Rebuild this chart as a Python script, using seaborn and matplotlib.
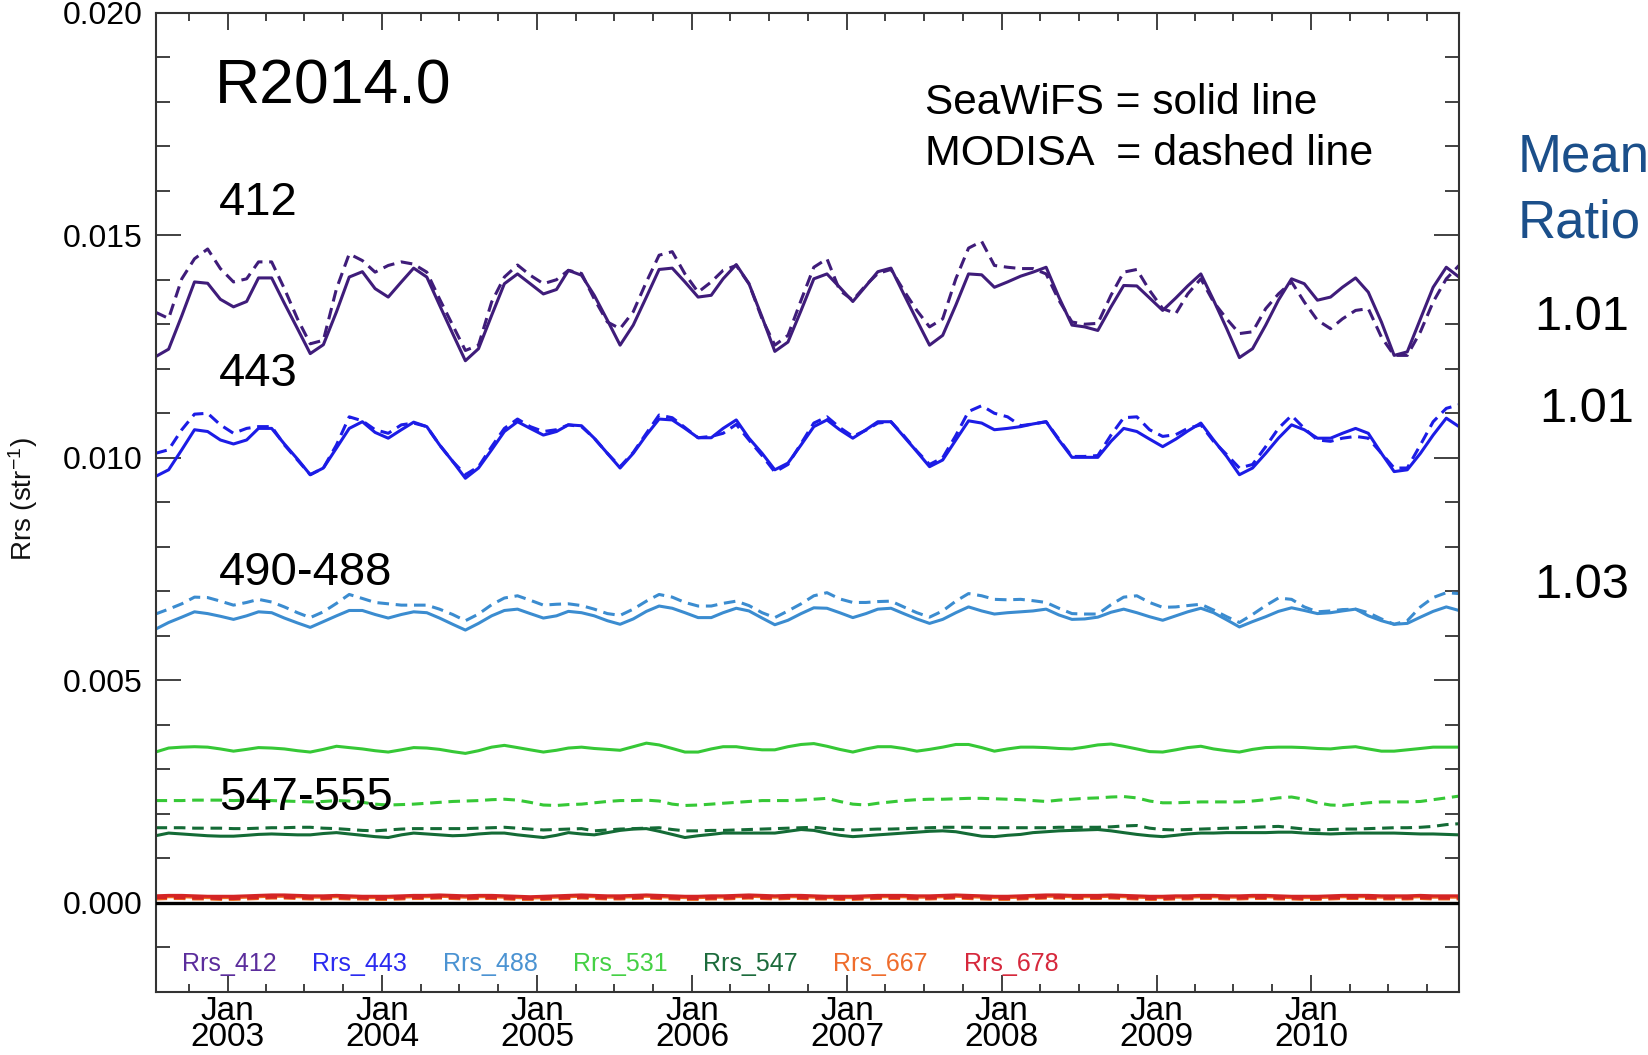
import numpy as np
import pandas as pd
import matplotlib
matplotlib.use("Agg")
import matplotlib.pyplot as plt
import matplotlib.dates as mdates
from matplotlib.ticker import MultipleLocator, FuncFormatter
import seaborn as sns

# ---------------- data (monthly means, Jul 2002 - Dec 2010) ----------------
months = pd.date_range("2002-07-01", "2010-12-01", freq="MS") + pd.Timedelta(days=14)

s412 = [0.01227, 0.01244, 0.01319, 0.01395, 0.01392, 0.01356,
        0.01339, 0.01351, 0.01404, 0.01404, 0.01347, 0.01290, 0.01234, 0.01254, 0.01328, 0.01406, 0.01418, 0.01380,
        0.01361, 0.01395, 0.01426, 0.01406, 0.01343, 0.01279, 0.01218, 0.01245, 0.01320, 0.01391, 0.01413, 0.01391,
        0.01368, 0.01378, 0.01421, 0.01410, 0.01365, 0.01309, 0.01253, 0.01298, 0.01361, 0.01423, 0.01426, 0.01395,
        0.01361, 0.01365, 0.01402, 0.01434, 0.01391, 0.01316, 0.01239, 0.01260, 0.01331, 0.01402, 0.01413, 0.01383,
        0.01351, 0.01386, 0.01418, 0.01426, 0.01368, 0.01309, 0.01253, 0.01275, 0.01343, 0.01413, 0.01411, 0.01383,
        0.01395, 0.01408, 0.01417, 0.01428, 0.01361, 0.01298, 0.01294, 0.01286, 0.01339, 0.01387, 0.01386, 0.01359,
        0.01331, 0.01359, 0.01386, 0.01413, 0.01354, 0.01290, 0.01225, 0.01245, 0.01298, 0.01354, 0.01402, 0.01391,
        0.01354, 0.01361, 0.01383, 0.01404, 0.01372, 0.01305, 0.01230, 0.01238, 0.01312, 0.01383, 0.01428, 0.01406]
m412 = [0.01327, 0.01313, 0.01402, 0.01447, 0.01469, 0.01425,
        0.01395, 0.01402, 0.01440, 0.01440, 0.01380, 0.01312, 0.01256, 0.01264, 0.01380, 0.01458, 0.01443, 0.01417,
        0.01432, 0.01440, 0.01435, 0.01417, 0.01357, 0.01298, 0.01241, 0.01253, 0.01350, 0.01406, 0.01433, 0.01410,
        0.01391, 0.01400, 0.01421, 0.01414, 0.01357, 0.01305, 0.01290, 0.01328, 0.01395, 0.01455, 0.01463, 0.01413,
        0.01372, 0.01395, 0.01421, 0.01432, 0.01391, 0.01312, 0.01253, 0.01275, 0.01354, 0.01428, 0.01447, 0.01376,
        0.01354, 0.01388, 0.01414, 0.01423, 0.01376, 0.01331, 0.01294, 0.01312, 0.01402, 0.01471, 0.01486, 0.01432,
        0.01428, 0.01425, 0.01425, 0.01413, 0.01354, 0.01305, 0.01300, 0.01302, 0.01365, 0.01417, 0.01423, 0.01376,
        0.01335, 0.01324, 0.01368, 0.01402, 0.01350, 0.01312, 0.01279, 0.01283, 0.01335, 0.01368, 0.01395, 0.01350,
        0.01309, 0.01290, 0.01312, 0.01331, 0.01335, 0.01271, 0.01230, 0.01230, 0.01283, 0.01350, 0.01402, 0.01432]
s443 = [0.00958, 0.00973, 0.01018, 0.01063, 0.01059, 0.01040,
        0.01031, 0.01040, 0.01066, 0.01066, 0.01031, 0.00997, 0.00962, 0.00977, 0.01022, 0.01066, 0.01081, 0.01057,
        0.01044, 0.01063, 0.01080, 0.01070, 0.01029, 0.00992, 0.00954, 0.00977, 0.01018, 0.01059, 0.01081, 0.01066,
        0.01051, 0.01059, 0.01074, 0.01072, 0.01044, 0.01010, 0.00977, 0.01010, 0.01051, 0.01087, 0.01085, 0.01066,
        0.01045, 0.01045, 0.01066, 0.01085, 0.01044, 0.01010, 0.00973, 0.00988, 0.01029, 0.01070, 0.01085, 0.01063,
        0.01044, 0.01063, 0.01081, 0.01081, 0.01048, 0.01014, 0.00980, 0.00995, 0.01040, 0.01083, 0.01078, 0.01063,
        0.01066, 0.01070, 0.01076, 0.01081, 0.01040, 0.01001, 0.01001, 0.01001, 0.01037, 0.01066, 0.01059, 0.01042,
        0.01025, 0.01042, 0.01060, 0.01078, 0.01040, 0.01003, 0.00962, 0.00977, 0.01010, 0.01044, 0.01074, 0.01063,
        0.01044, 0.01044, 0.01055, 0.01066, 0.01055, 0.01010, 0.00969, 0.00973, 0.01010, 0.01051, 0.01089, 0.01070]
m443 = [0.01010, 0.01018, 0.01063, 0.01098, 0.01100, 0.01074,
        0.01055, 0.01066, 0.01070, 0.01070, 0.01029, 0.00995, 0.00962, 0.00977, 0.01029, 0.01092, 0.01083, 0.01063,
        0.01055, 0.01074, 0.01078, 0.01070, 0.01029, 0.00992, 0.00962, 0.00980, 0.01025, 0.01066, 0.01087, 0.01070,
        0.01059, 0.01063, 0.01074, 0.01070, 0.01044, 0.01010, 0.00980, 0.01012, 0.01055, 0.01096, 0.01090, 0.01068,
        0.01045, 0.01048, 0.01055, 0.01075, 0.01040, 0.01005, 0.00968, 0.00985, 0.01032, 0.01078, 0.01092, 0.01068,
        0.01048, 0.01062, 0.01078, 0.01081, 0.01050, 0.01015, 0.00985, 0.01000, 0.01050, 0.01104, 0.01117, 0.01100,
        0.01092, 0.01072, 0.01076, 0.01081, 0.01042, 0.01003, 0.01003, 0.01005, 0.01051, 0.01090, 0.01092, 0.01063,
        0.01048, 0.01052, 0.01066, 0.01074, 0.01037, 0.01007, 0.00977, 0.00985, 0.01025, 0.01066, 0.01095, 0.01066,
        0.01040, 0.01037, 0.01044, 0.01048, 0.01044, 0.01010, 0.00977, 0.00977, 0.01029, 0.01081, 0.01111, 0.01119]
s488 = [0.00615, 0.00630, 0.00642, 0.00654, 0.00650, 0.00644,
        0.00637, 0.00645, 0.00654, 0.00652, 0.00640, 0.00629, 0.00619, 0.00632, 0.00645, 0.00657, 0.00657, 0.00648,
        0.00640, 0.00648, 0.00654, 0.00652, 0.00640, 0.00626, 0.00613, 0.00628, 0.00645, 0.00657, 0.00660, 0.00650,
        0.00640, 0.00645, 0.00655, 0.00652, 0.00645, 0.00634, 0.00626, 0.00638, 0.00655, 0.00667, 0.00662, 0.00652,
        0.00641, 0.00641, 0.00652, 0.00662, 0.00656, 0.00640, 0.00625, 0.00635, 0.00650, 0.00663, 0.00662, 0.00652,
        0.00641, 0.00650, 0.00660, 0.00662, 0.00650, 0.00638, 0.00628, 0.00637, 0.00652, 0.00665, 0.00656, 0.00649,
        0.00652, 0.00654, 0.00656, 0.00660, 0.00647, 0.00637, 0.00638, 0.00642, 0.00653, 0.00660, 0.00652, 0.00643,
        0.00635, 0.00645, 0.00654, 0.00662, 0.00652, 0.00636, 0.00620, 0.00632, 0.00643, 0.00655, 0.00663, 0.00657,
        0.00650, 0.00652, 0.00656, 0.00660, 0.00645, 0.00634, 0.00626, 0.00628, 0.00642, 0.00655, 0.00665, 0.00657]
m488 = [0.00649, 0.00660, 0.00672, 0.00687, 0.00686, 0.00678,
        0.00669, 0.00675, 0.00682, 0.00676, 0.00665, 0.00652, 0.00641, 0.00654, 0.00673, 0.00693, 0.00684, 0.00675,
        0.00672, 0.00669, 0.00669, 0.00669, 0.00660, 0.00648, 0.00634, 0.00649, 0.00670, 0.00685, 0.00690, 0.00680,
        0.00669, 0.00671, 0.00672, 0.00668, 0.00660, 0.00650, 0.00646, 0.00660, 0.00678, 0.00693, 0.00687, 0.00675,
        0.00667, 0.00667, 0.00673, 0.00678, 0.00668, 0.00652, 0.00641, 0.00656, 0.00672, 0.00690, 0.00697, 0.00683,
        0.00675, 0.00675, 0.00677, 0.00678, 0.00665, 0.00652, 0.00642, 0.00656, 0.00678, 0.00695, 0.00690, 0.00682,
        0.00681, 0.00682, 0.00679, 0.00675, 0.00662, 0.00650, 0.00649, 0.00649, 0.00670, 0.00687, 0.00690, 0.00675,
        0.00664, 0.00665, 0.00668, 0.00671, 0.00658, 0.00643, 0.00630, 0.00648, 0.00668, 0.00685, 0.00682, 0.00665,
        0.00654, 0.00656, 0.00659, 0.00660, 0.00652, 0.00638, 0.00626, 0.00634, 0.00665, 0.00686, 0.00697, 0.00695]
s531 = [0.00339, 0.00348, 0.00350, 0.00351, 0.00350, 0.00346,
        0.00341, 0.00345, 0.00349, 0.00348, 0.00346, 0.00342, 0.00339, 0.00345, 0.00352, 0.00349, 0.00346, 0.00342,
        0.00339, 0.00344, 0.00349, 0.00348, 0.00345, 0.00340, 0.00336, 0.00342, 0.00350, 0.00354, 0.00349, 0.00344,
        0.00339, 0.00343, 0.00348, 0.00350, 0.00347, 0.00345, 0.00343, 0.00351, 0.00359, 0.00355, 0.00347, 0.00339,
        0.00339, 0.00346, 0.00351, 0.00351, 0.00347, 0.00344, 0.00344, 0.00351, 0.00356, 0.00358, 0.00352, 0.00345,
        0.00339, 0.00346, 0.00351, 0.00351, 0.00347, 0.00341, 0.00345, 0.00350, 0.00356, 0.00356, 0.00349, 0.00341,
        0.00346, 0.00350, 0.00350, 0.00349, 0.00347, 0.00346, 0.00350, 0.00355, 0.00357, 0.00352, 0.00346, 0.00340,
        0.00339, 0.00344, 0.00349, 0.00352, 0.00346, 0.00342, 0.00339, 0.00345, 0.00349, 0.00350, 0.00350, 0.00349,
        0.00347, 0.00346, 0.00349, 0.00351, 0.00346, 0.00341, 0.00341, 0.00344, 0.00347, 0.00350, 0.00350, 0.00350]
m531 = [0.00230, 0.00230, 0.00230, 0.00231, 0.00231, 0.00231,
        0.00230, 0.00231, 0.00231, 0.00230, 0.00229, 0.00228, 0.00227, 0.00228, 0.00230, 0.00229, 0.00226, 0.00222,
        0.00220, 0.00221, 0.00222, 0.00224, 0.00226, 0.00228, 0.00229, 0.00230, 0.00232, 0.00233, 0.00231, 0.00226,
        0.00220, 0.00219, 0.00221, 0.00222, 0.00225, 0.00228, 0.00230, 0.00230, 0.00231, 0.00229, 0.00222, 0.00219,
        0.00220, 0.00222, 0.00224, 0.00226, 0.00228, 0.00230, 0.00230, 0.00230, 0.00231, 0.00233, 0.00235, 0.00228,
        0.00222, 0.00220, 0.00224, 0.00227, 0.00230, 0.00232, 0.00233, 0.00233, 0.00234, 0.00235, 0.00235, 0.00234,
        0.00233, 0.00232, 0.00230, 0.00228, 0.00231, 0.00233, 0.00235, 0.00236, 0.00238, 0.00239, 0.00236, 0.00229,
        0.00225, 0.00225, 0.00226, 0.00227, 0.00227, 0.00227, 0.00227, 0.00229, 0.00232, 0.00236, 0.00238, 0.00233,
        0.00225, 0.00220, 0.00219, 0.00222, 0.00225, 0.00227, 0.00227, 0.00227, 0.00228, 0.00232, 0.00236, 0.00240]
s547 = [0.00151, 0.00157, 0.00155, 0.00153, 0.00151, 0.00150,
        0.00150, 0.00152, 0.00154, 0.00155, 0.00154, 0.00153, 0.00153, 0.00156, 0.00158, 0.00155, 0.00152, 0.00149,
        0.00147, 0.00153, 0.00157, 0.00155, 0.00153, 0.00151, 0.00152, 0.00155, 0.00157, 0.00157, 0.00153, 0.00150,
        0.00147, 0.00152, 0.00158, 0.00155, 0.00153, 0.00158, 0.00163, 0.00166, 0.00167, 0.00161, 0.00154, 0.00147,
        0.00151, 0.00154, 0.00157, 0.00157, 0.00157, 0.00157, 0.00157, 0.00161, 0.00165, 0.00163, 0.00157, 0.00152,
        0.00149, 0.00151, 0.00153, 0.00155, 0.00157, 0.00159, 0.00161, 0.00162, 0.00160, 0.00155, 0.00150, 0.00149,
        0.00152, 0.00154, 0.00158, 0.00160, 0.00162, 0.00163, 0.00164, 0.00165, 0.00162, 0.00158, 0.00154, 0.00151,
        0.00149, 0.00152, 0.00155, 0.00157, 0.00157, 0.00158, 0.00158, 0.00158, 0.00158, 0.00159, 0.00159, 0.00157,
        0.00156, 0.00155, 0.00156, 0.00157, 0.00157, 0.00157, 0.00157, 0.00156, 0.00155, 0.00155, 0.00154, 0.00153]
m547 = [0.00169, 0.00169, 0.00169, 0.00168, 0.00168, 0.00168,
        0.00167, 0.00167, 0.00168, 0.00169, 0.00169, 0.00170, 0.00170, 0.00168, 0.00167, 0.00165, 0.00163, 0.00162,
        0.00164, 0.00166, 0.00167, 0.00167, 0.00167, 0.00167, 0.00167, 0.00168, 0.00169, 0.00170, 0.00168, 0.00166,
        0.00164, 0.00165, 0.00166, 0.00167, 0.00162, 0.00164, 0.00166, 0.00167, 0.00168, 0.00169, 0.00165, 0.00162,
        0.00162, 0.00163, 0.00163, 0.00164, 0.00165, 0.00166, 0.00167, 0.00168, 0.00169, 0.00170, 0.00167, 0.00165,
        0.00164, 0.00165, 0.00166, 0.00166, 0.00167, 0.00168, 0.00169, 0.00170, 0.00170, 0.00170, 0.00169, 0.00169,
        0.00169, 0.00169, 0.00169, 0.00169, 0.00170, 0.00170, 0.00170, 0.00170, 0.00171, 0.00173, 0.00174, 0.00168,
        0.00165, 0.00164, 0.00165, 0.00166, 0.00167, 0.00168, 0.00169, 0.00170, 0.00171, 0.00172, 0.00169, 0.00166,
        0.00164, 0.00165, 0.00166, 0.00166, 0.00167, 0.00168, 0.00169, 0.00169, 0.00170, 0.00172, 0.00176, 0.00178]
s667 = [0.00013, 0.00014, 0.00014, 0.00013, 0.00012, 0.00012,
        0.00012, 0.00013, 0.00014, 0.00015, 0.00015, 0.00014, 0.00013, 0.00013, 0.00014, 0.00013, 0.00012, 0.00012,
        0.00012, 0.00013, 0.00014, 0.00014, 0.00015, 0.00014, 0.00013, 0.00014, 0.00014, 0.00013, 0.00012, 0.00011,
        0.00012, 0.00013, 0.00014, 0.00015, 0.00014, 0.00013, 0.00013, 0.00014, 0.00015, 0.00014, 0.00013, 0.00012,
        0.00012, 0.00013, 0.00013, 0.00014, 0.00015, 0.00014, 0.00013, 0.00014, 0.00014, 0.00013, 0.00012, 0.00012,
        0.00012, 0.00013, 0.00014, 0.00014, 0.00014, 0.00013, 0.00013, 0.00014, 0.00015, 0.00014, 0.00013, 0.00012,
        0.00012, 0.00013, 0.00014, 0.00015, 0.00015, 0.00014, 0.00014, 0.00014, 0.00015, 0.00014, 0.00013, 0.00012,
        0.00012, 0.00013, 0.00013, 0.00014, 0.00014, 0.00013, 0.00013, 0.00014, 0.00014, 0.00013, 0.00012, 0.00012,
        0.00012, 0.00013, 0.00014, 0.00014, 0.00014, 0.00013, 0.00013, 0.00013, 0.00014, 0.00013, 0.00013, 0.00013]
m667 = [0.00009, 0.00010, 0.00010, 0.00009, 0.00009, 0.00008,
        0.00008, 0.00009, 0.00010, 0.00011, 0.00011, 0.00010, 0.00009, 0.00009, 0.00010, 0.00009, 0.00009, 0.00008,
        0.00008, 0.00009, 0.00010, 0.00010, 0.00011, 0.00010, 0.00009, 0.00010, 0.00010, 0.00009, 0.00008, 0.00008,
        0.00008, 0.00009, 0.00010, 0.00011, 0.00010, 0.00009, 0.00009, 0.00010, 0.00011, 0.00010, 0.00009, 0.00008,
        0.00008, 0.00009, 0.00009, 0.00010, 0.00011, 0.00010, 0.00009, 0.00010, 0.00010, 0.00009, 0.00009, 0.00008,
        0.00008, 0.00009, 0.00010, 0.00010, 0.00010, 0.00009, 0.00009, 0.00010, 0.00011, 0.00010, 0.00009, 0.00008,
        0.00008, 0.00009, 0.00010, 0.00011, 0.00011, 0.00010, 0.00010, 0.00010, 0.00011, 0.00010, 0.00009, 0.00008,
        0.00008, 0.00009, 0.00009, 0.00010, 0.00010, 0.00009, 0.00009, 0.00010, 0.00010, 0.00009, 0.00009, 0.00008,
        0.00008, 0.00009, 0.00010, 0.00010, 0.00010, 0.00009, 0.00009, 0.00009, 0.00010, 0.00009, 0.00009, 0.00009]
s678 = [0.00016, 0.00017, 0.00017, 0.00016, 0.00015, 0.00015,
        0.00015, 0.00016, 0.00017, 0.00018, 0.00018, 0.00017, 0.00016, 0.00016, 0.00017, 0.00016, 0.00015, 0.00015,
        0.00015, 0.00016, 0.00017, 0.00017, 0.00018, 0.00017, 0.00016, 0.00017, 0.00017, 0.00016, 0.00015, 0.00014,
        0.00015, 0.00016, 0.00017, 0.00018, 0.00017, 0.00016, 0.00016, 0.00017, 0.00018, 0.00017, 0.00016, 0.00015,
        0.00015, 0.00016, 0.00016, 0.00017, 0.00018, 0.00017, 0.00016, 0.00017, 0.00017, 0.00016, 0.00015, 0.00015,
        0.00015, 0.00016, 0.00017, 0.00017, 0.00017, 0.00016, 0.00016, 0.00017, 0.00018, 0.00017, 0.00016, 0.00015,
        0.00015, 0.00016, 0.00017, 0.00018, 0.00018, 0.00017, 0.00017, 0.00017, 0.00018, 0.00017, 0.00016, 0.00015,
        0.00015, 0.00016, 0.00016, 0.00017, 0.00017, 0.00016, 0.00016, 0.00017, 0.00017, 0.00016, 0.00015, 0.00015,
        0.00015, 0.00016, 0.00017, 0.00017, 0.00017, 0.00016, 0.00016, 0.00016, 0.00017, 0.00016, 0.00016, 0.00016]
m678 = [0.00012, 0.00012, 0.00012, 0.00011, 0.00011, 0.00010,
        0.00010, 0.00011, 0.00012, 0.00013, 0.00013, 0.00012, 0.00011, 0.00011, 0.00012, 0.00011, 0.00011, 0.00010,
        0.00010, 0.00011, 0.00012, 0.00012, 0.00013, 0.00012, 0.00011, 0.00012, 0.00012, 0.00011, 0.00010, 0.00010,
        0.00010, 0.00011, 0.00012, 0.00013, 0.00012, 0.00011, 0.00011, 0.00012, 0.00013, 0.00012, 0.00011, 0.00010,
        0.00010, 0.00011, 0.00011, 0.00012, 0.00013, 0.00012, 0.00011, 0.00012, 0.00012, 0.00011, 0.00011, 0.00010,
        0.00010, 0.00011, 0.00012, 0.00012, 0.00012, 0.00011, 0.00011, 0.00012, 0.00013, 0.00012, 0.00011, 0.00010,
        0.00010, 0.00011, 0.00012, 0.00013, 0.00013, 0.00012, 0.00012, 0.00012, 0.00013, 0.00012, 0.00011, 0.00010,
        0.00010, 0.00011, 0.00011, 0.00012, 0.00012, 0.00011, 0.00011, 0.00012, 0.00012, 0.00011, 0.00011, 0.00010,
        0.00010, 0.00011, 0.00012, 0.00012, 0.00012, 0.00011, 0.00011, 0.00011, 0.00012, 0.00011, 0.00011, 0.00011]

bands = ["Rrs_412", "Rrs_443", "Rrs_488", "Rrs_531", "Rrs_547", "Rrs_667", "Rrs_678"]
seawifs = [s412, s443, s488, s531, s547, s667, s678]
modisa = [m412, m443, m488, m531, m547, m667, m678]
band_colors = ["#3f1c7a", "#1c1ce6", "#3b8cd0", "#36c836", "#146b36", "#f0691e", "#d42424"]
label_colors = ["#5b2d9c", "#2b2bf0", "#4b93d2", "#45d045", "#1c6b3c", "#ef6c2c", "#d6283c"]
band_labels = ["412", "443", "490-488", "547-555"]
mean_ratios = ["1.01", "1.01", "1.03"]

# ---------------- long-form table ----------------
frames = []
for b, sv, mv in zip(bands, seawifs, modisa):
    frames.append(pd.DataFrame({"date": months, "Rrs": sv, "band": b, "sensor": "SeaWiFS"}))
    frames.append(pd.DataFrame({"date": months, "Rrs": mv, "band": b, "sensor": "MODISA"}))
df = pd.concat(frames, ignore_index=True)

# ---------------- style ----------------
sns.set_style("ticks")
plt.rcParams["font.family"] = ["Liberation Sans", "DejaVu Sans"]
plt.rcParams["mathtext.fontset"] = "custom"
plt.rcParams["mathtext.rm"] = "Liberation Sans"
plt.rcParams["mathtext.it"] = "Liberation Sans:italic"
plt.rcParams["text.color"] = "black"
plt.rcParams["axes.labelcolor"] = "black"
plt.rcParams["xtick.color"] = "black"
plt.rcParams["ytick.color"] = "black"

W, H = 1648, 1055
fig = plt.figure(figsize=(W / 100, H / 100), dpi=100)
ax = fig.add_axes([155.5 / W, 1 - 992 / H, (1459 - 155.5) / W, (992 - 12.6) / H])

order = ["Rrs_667", "Rrs_678", "Rrs_547", "Rrs_531", "Rrs_488", "Rrs_443", "Rrs_412"]
palette = dict(zip(bands, band_colors))
sns.lineplot(data=df, x="date", y="Rrs", hue="band", hue_order=order, palette=palette,
             style="sensor", style_order=["SeaWiFS", "MODISA"],
             dashes={"SeaWiFS": "", "MODISA": (3.8, 2.2)},
             estimator=None, linewidth=2.2, legend=False, ax=ax)

ax.axhline(0, color="black", lw=2.4, zorder=5)

ax.set_xlim(months[0], months[-1])
ax.set_ylim(-0.002, 0.020)
ax.yaxis.set_major_locator(MultipleLocator(0.005))
ax.yaxis.set_minor_locator(MultipleLocator(0.001))
ax.yaxis.set_major_formatter(FuncFormatter(lambda v, p: f"{v:.3f}"))
ax.xaxis.set_major_locator(mdates.YearLocator())
ax.xaxis.set_minor_locator(mdates.MonthLocator(bymonth=[4, 7, 10]))
ax.xaxis.set_major_formatter(mdates.DateFormatter("%b\n%Y"))

ax.tick_params(which="both", direction="in", top=True, right=True, color="#333333", width=1.3)
ax.tick_params(axis="x", which="major", length=12, labelsize=24, pad=3, labelcolor="black")
ax.tick_params(axis="x", which="minor", length=6)
ax.tick_params(axis="y", which="major", length=18, labelsize=23, pad=9, labelcolor="black")
ax.tick_params(axis="y", which="minor", length=10)
for lab in ax.get_xticklabels():
    lab.set_linespacing(0.78)
for sp in ax.spines.values():
    sp.set_color("#333333")
    sp.set_linewidth(1.5)

ax.set_xlabel("")
ax.set_ylabel("")
fig.text(23 / W, 1 - 499 / H, "Rrs (str$^{-1}$)", rotation=90, ha="center", va="center",
         fontsize=20, color="#111111")

def put(x, y, s, **kw):
    fig.text(x / W, 1 - y / H, s, va="center", **kw)

put(215, 87, "R2014.0", fontsize=45, ha="left", color="black")
put(925, 103, "SeaWiFS = solid line", fontsize=30.5, ha="left", color="black")
put(925, 154, "MODISA  = dashed line", fontsize=31, ha="left", color="black")

label_y = [203, 374, 573, 798]
for s, y in zip(band_labels, label_y):
    put(219, y, s, fontsize=34, ha="left", color="black")

put(1518, 158, "Mean", fontsize=38, ha="left", color="#1b4f8a")
put(1518, 223, "Ratio", fontsize=38, ha="left", color="#1b4f8a")
for s, (x, y) in zip(mean_ratios, [(1582, 318), (1587, 410), (1582, 585)]):
    put(x, y, s, fontsize=35, ha="center", color="black")

for i, (b, c) in enumerate(zip(bands, label_colors)):
    put(182 + 130.3 * i, 964, b, fontsize=18, ha="left", color=c)

fig.savefig("out.png", dpi=100)
